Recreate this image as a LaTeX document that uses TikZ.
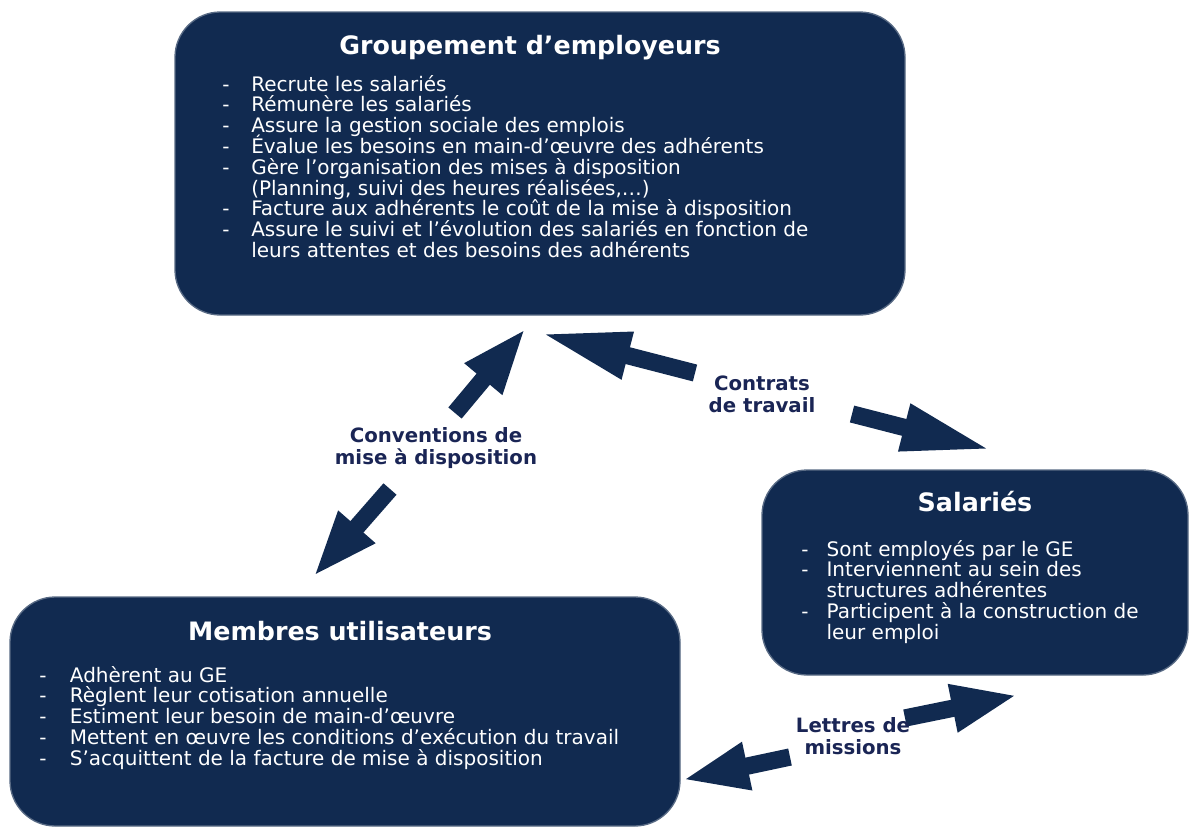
\documentclass[tikz,border=0pt]{standalone}
\usepackage{fontspec}
\setmainfont{DejaVu Sans}
\usetikzlibrary{arrows.meta}

\definecolor{navy}{HTML}{112A50}
\definecolor{lblblue}{HTML}{1A2555}

% list line: text smashed so every row keeps the same height
\newcommand{\sm}[1]{\smash{#1}}

\tikzset{
  box/.style={fill=navy, draw=navy!70!white, line width=1pt, rounded corners=34pt, inner sep=0pt},
  boxtitle/.style={text=white, anchor=base, inner sep=0pt, font=\fontsize{19}{22}\selectfont\bfseries},
  boxlist/.style={text=white, anchor=base west, inner sep=0pt, font=\fontsize{15}{15.6}\selectfont},
  lbl/.style={text=lblblue, align=center, inner sep=0pt, font=\fontsize{14.8}{16.5}\selectfont\bfseries},
  bigarrow/.style={navy, line width=13pt, -{Triangle[length=#1, width=33pt]}},
  bigarrow/.default=50pt
}

\begin{document}
\begin{tikzpicture}[x=0.75pt, y=-0.75pt]
  \useasboundingbox (0,0) rectangle (1190,828);

  % the three boxes
  \node[box, minimum width=547.5pt, minimum height=227.25pt] (ge) at (540,163.5) {};
  \node[box, minimum width=319.5pt, minimum height=153.75pt] (sal) at (975,572.5) {};
  \node[box, minimum width=502.5pt, minimum height=171.75pt] (mem) at (345,711.5) {};

  \node[boxtitle] (getitle) at (530,54) {Groupement d’employeurs};
  \node[boxlist] (gelist) at (222,91) {\begin{tabular}[t]{@{}p{21.75pt}@{}l@{}}
    - & \sm{Recrute les salariés}\\
    - & \sm{Rémunère les salariés}\\
    - & \sm{Assure la gestion sociale des emplois}\\
    - & \sm{Évalue les besoins en main-d’œuvre des adhérents}\\
    - & \sm{Gère l’organisation des mises à disposition}\\
      & \sm{(Planning, suivi des heures réalisées,…)}\\
    - & \sm{Facture aux adhérents le coût de la mise à disposition}\\
    - & \sm{Assure le suivi et l’évolution des salariés en fonction de}\\
      & \sm{leurs attentes et des besoins des adhérents}
  \end{tabular}};

  \node[boxtitle] (saltitle) at (975,511) {Salariés};
  \node[boxlist] (sallist) at (801,556) {\begin{tabular}[t]{@{}p{19pt}@{}l@{}}
    - & \sm{Sont employés par le GE}\\
    - & \sm{Interviennent au sein des}\\
      & \sm{structures adhérentes}\\
    - & \sm{Participent à la construction de}\\
      & \sm{leur emploi}
  \end{tabular}};

  \node[boxtitle] (memtitle) at (340,640) {Membres utilisateurs};
  \node[boxlist] (memlist) at (39,682) {\begin{tabular}[t]{@{}p{23pt}@{}l@{}}
    - & \sm{Adhèrent au GE}\\
    - & \sm{Règlent leur cotisation annuelle}\\
    - & \sm{Estiment leur besoin de main-d’œuvre}\\
    - & \sm{Mettent en œuvre les conditions d’exécution du travail}\\
    - & \sm{S’acquittent de la facture de mise à disposition}
  \end{tabular}};

  % arrow ends
  \coordinate (convup0) at (455,413);
  \coordinate (convup1) at (526,328);
  \coordinate (contup0) at (695,373);
  \coordinate (contup1) at (540,333);
  \coordinate (contdn0) at (852,414);
  \coordinate (contdn1) at (992,450);
  \coordinate (convdn0) at (390,489);
  \coordinate (convdn1) at (313,577);
  \coordinate (lettup0) at (905,718);
  \coordinate (lettup1) at (1018,695);
  \coordinate (lettdn0) at (790,757);
  \coordinate (lettdn1) at (682,780);

  \draw[bigarrow] (convup0) -- (convup1);
  \draw[bigarrow=68pt] (contup0) -- (contup1);
  \draw[bigarrow=68pt] (contdn0) -- (contdn1);
  \draw[bigarrow] (convdn0) -- (convdn1);
  \draw[bigarrow] (lettup0) -- (lettup1);
  \draw[bigarrow] (lettdn0) -- (lettdn1);

  \node[lbl] (contrats) at (762,394) {Contrats\\de travail};
  \node[lbl] (conv) at (436,448) {Conventions de\\mise à disposition};
  \node[lbl] (lettres) at (853,736) {Lettres de\\missions};
\end{tikzpicture}
\end{document}
